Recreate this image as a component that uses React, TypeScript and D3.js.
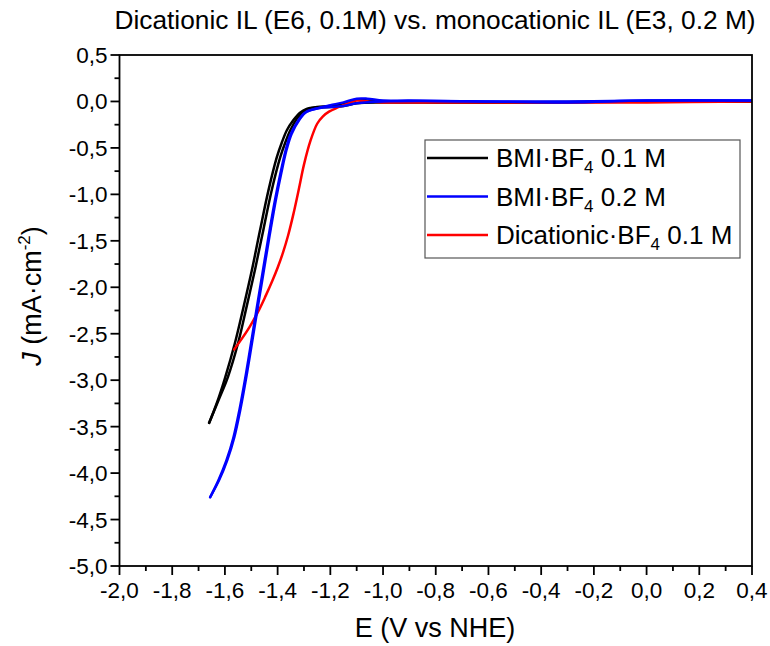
import React from "react";
import * as d3 from "d3";

type P = [number, number];

const title = "Dicationic IL (E6, 0.1M) vs. monocationic IL (E3, 0.2 M)";
const xTicks = [-2.0, -1.8, -1.6, -1.4, -1.2, -1.0, -0.8, -0.6, -0.4, -0.2, 0.0, 0.2, 0.4];
const yTicks = [0.5, 0.0, -0.5, -1.0, -1.5, -2.0, -2.5, -3.0, -3.5, -4.0, -4.5, -5.0];

// BMI·BF4 0.1 M (black) – cathodic and return scan
const blackFwd: P[] = [
  [0.4, 0.0], [0.0, 0.0], [-0.4, -0.01], [-0.8, -0.01], [-1.0, 0.0], [-1.06, 0.02], [-1.1, 0.02],
  [-1.15, -0.02], [-1.2, -0.05], [-1.25, -0.06], [-1.29, -0.08], [-1.315, -0.12], [-1.34, -0.2],
  [-1.365, -0.31], [-1.385, -0.45], [-1.403, -0.6], [-1.435, -0.96], [-1.467, -1.39], [-1.498, -1.82],
  [-1.53, -2.22], [-1.562, -2.6], [-1.6, -2.98], [-1.63, -3.24], [-1.66, -3.46],
];
const blackRev: P[] = [
  [-1.66, -3.46], [-1.622, -3.2], [-1.588, -2.96], [-1.55, -2.6], [-1.517, -2.2], [-1.485, -1.8],
  [-1.454, -1.38], [-1.422, -0.95], [-1.39, -0.6], [-1.372, -0.45], [-1.352, -0.31], [-1.328, -0.19],
  [-1.303, -0.11], [-1.27, -0.07], [-1.2, -0.06], [-1.15, -0.05], [-1.1, -0.02], [-1.0, -0.01],
  [-0.6, -0.01], [0.0, 0.0], [0.4, 0.0],
];
// BMI·BF4 0.2 M (blue)
const blueFwd: P[] = [
  [0.4, 0.01], [0.0, 0.01], [-0.3, 0.0], [-0.6, 0.0], [-0.9, 0.01], [-1.0, 0.01], [-1.06, 0.03],
  [-1.1, 0.03], [-1.15, -0.01], [-1.2, -0.04], [-1.23, -0.06], [-1.27, -0.09], [-1.3, -0.13],
  [-1.325, -0.22], [-1.352, -0.36], [-1.37, -0.53], [-1.39, -0.78], [-1.41, -1.06], [-1.43, -1.38],
  [-1.45, -1.72], [-1.475, -2.15], [-1.498, -2.55], [-1.52, -2.93], [-1.545, -3.32], [-1.568, -3.62],
  [-1.595, -3.87], [-1.625, -4.08], [-1.656, -4.26],
];
const blueRev: P[] = [
  [-1.656, -4.26], [-1.621, -4.07], [-1.591, -3.86], [-1.564, -3.61], [-1.541, -3.31], [-1.516, -2.92],
  [-1.494, -2.54], [-1.471, -2.14], [-1.446, -1.71], [-1.426, -1.37], [-1.406, -1.05], [-1.386, -0.77],
  [-1.366, -0.52], [-1.347, -0.35], [-1.318, -0.2], [-1.29, -0.11], [-1.24, -0.07], [-1.2, -0.06],
  [-1.15, -0.05], [-1.1, -0.02], [-1.0, 0.0], [-0.6, 0.0], [-0.3, -0.01], [0.0, 0.01], [0.4, 0.01],
];
// Dicationic·BF4 0.1 M (red)
const redFwd: P[] = [
  [0.4, 0.0], [0.0, -0.01], [-0.4, -0.01], [-0.8, -0.01], [-1.0, -0.01], [-1.06, 0.0], [-1.1, 0.01],
  [-1.14, -0.03], [-1.176, -0.07], [-1.205, -0.11], [-1.228, -0.16], [-1.25, -0.24], [-1.275, -0.42],
  [-1.3, -0.68], [-1.32, -0.95], [-1.34, -1.21], [-1.36, -1.44], [-1.38, -1.63], [-1.4, -1.79],
  [-1.42, -1.93], [-1.445, -2.09], [-1.47, -2.24], [-1.505, -2.42], [-1.535, -2.55], [-1.565, -2.67],
];

const series = [
  { name: "BMI·BF", sub: "4", rest: " 0.1 M", color: "#000000", scans: [blackFwd, blackRev] },
  { name: "BMI·BF", sub: "4", rest: " 0.2 M", color: "#0000ff", scans: [blueFwd, blueRev] },
  { name: "Dicationic·BF", sub: "4", rest: " 0.1 M", color: "#ff0000", scans: [redFwd] },
];
const drawOrder = [0, 2, 1];

const W = 770, H = 646;
const M = { left: 119.5, right: 752, top: 55, bottom: 566 };
const FONT = "'Liberation Sans', Arial, sans-serif";

export default function App() {
  const x = d3.scaleLinear().domain([-2.0, 0.4]).range([M.left, M.right]);
  const y = d3.scaleLinear().domain([-5.0, 0.5]).range([M.bottom, M.top]);
  const line = d3.line<P>().x((d) => x(d[0])).y((d) => y(d[1])).curve(d3.curveCatmullRom.alpha(0.5));
  const fmt = (v: number) => d3.format(".1f")(v).replace("−", "-").replace(".", ",");
  const xMinor = d3.range(-1.9, 0.4, 0.2);
  const yMinor = d3.range(0.25, -5.0, -0.5);

  return (
    <svg width={W} height={H} style={{ position: "absolute", left: 0, top: 0, background: "#fff" }} fontFamily={FONT}>
      <rect x={0} y={0} width={W} height={H} fill="#fff" />
      <text x={435} y={29} textAnchor="middle" fontSize={26.3} fill="#000">{title}</text>

      <defs>
        <clipPath id="plotclip">
          <rect x={M.left} y={M.top} width={M.right - M.left} height={M.bottom - M.top} />
        </clipPath>
      </defs>

      <g clipPath="url(#plotclip)">
        {drawOrder.map((i) =>
          series[i].scans.map((s, k) => (
            <path key={`${i}-${k}`} d={line(s) || ""} fill="none" stroke={series[i].color} strokeWidth={2.5} strokeLinejoin="round" strokeLinecap="round" />
          ))
        )}
      </g>

      {/* frame */}
      <rect x={M.left} y={M.top} width={M.right - M.left} height={M.bottom - M.top} fill="none" stroke="#000" strokeWidth={1.8} />

      {/* x ticks */}
      {xTicks.map((t) => (
        <g key={`xt${t}`}>
          <line x1={x(t)} x2={x(t)} y1={M.bottom} y2={M.bottom + 9} stroke="#000" strokeWidth={1.8} />
          <text x={x(t)} y={M.bottom + 32} textAnchor="middle" fontSize={22.5}>{fmt(t)}</text>
        </g>
      ))}
      {xMinor.map((t) => (
        <line key={`xm${t}`} x1={x(t)} x2={x(t)} y1={M.bottom} y2={M.bottom + 5} stroke="#000" strokeWidth={1.8} />
      ))}
      {/* y ticks */}
      {yTicks.map((t) => (
        <g key={`yt${t}`}>
          <line x1={M.left - 9} x2={M.left} y1={y(t)} y2={y(t)} stroke="#000" strokeWidth={1.8} />
          <text x={M.left - 12} y={y(t) + 8} textAnchor="end" fontSize={22.5}>{fmt(t)}</text>
        </g>
      ))}
      {yMinor.map((t) => (
        <line key={`ym${t}`} x1={M.left - 5} x2={M.left} y1={y(t)} y2={y(t)} stroke="#000" strokeWidth={1.8} />
      ))}

      <text x={435} y={637} textAnchor="middle" fontSize={27}>E (V vs NHE)</text>
      <text transform="translate(41,296) rotate(-90)" textAnchor="middle" fontSize={27}>
        <tspan fontStyle="italic">J</tspan> (mA·cm<tspan fontSize={17} dy={-11}>-2</tspan><tspan dy={11}>)</tspan>
      </text>

      {/* legend */}
      <rect x={425} y={140} width={315} height={118} fill="#fff" stroke="#555" strokeWidth={1.2} />
      {series.map((s, i) => {
        const ly = 158 + i * 38.5;
        return (
          <g key={`lg${i}`}>
            <line x1={427} x2={488} y1={ly} y2={ly} stroke={s.color} strokeWidth={2.5} />
            <text x={496} y={ly + 9} fontSize={26}>
              {s.name}<tspan fontSize={17} dy={6}>{s.sub}</tspan><tspan dy={-6}>{s.rest}</tspan>
            </text>
          </g>
        );
      })}
    </svg>
  );
}
